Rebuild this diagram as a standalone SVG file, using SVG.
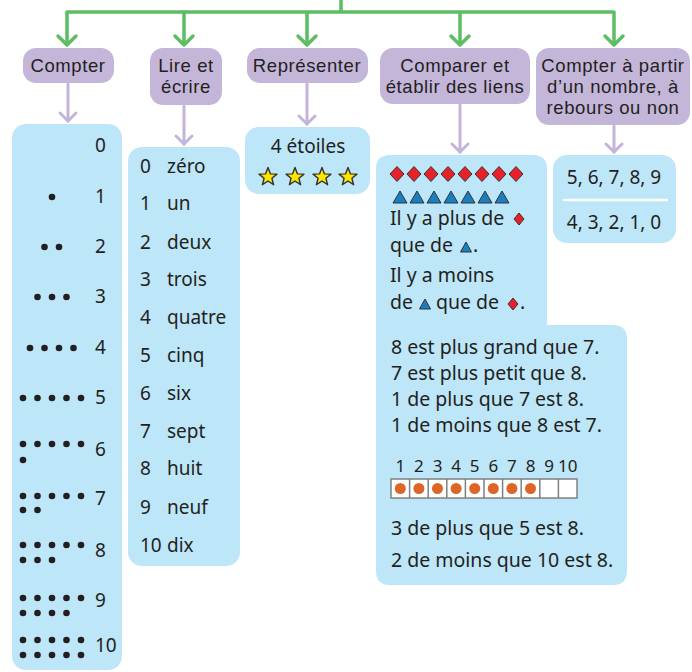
<svg xmlns="http://www.w3.org/2000/svg" width="692" height="672" viewBox="0 0 692 672">
<defs>
<style>
text{font-family:"Noto Sans","Liberation Sans",sans-serif;fill:#231f20;font-size:19px}
.hd{font-family:"Liberation Sans","Noto Sans",sans-serif;font-size:18.5px;letter-spacing:0.6px;text-anchor:middle}
.c{text-anchor:middle}
.cmp{font-size:19.5px}
.num{font-size:17px;text-anchor:middle}
.pu{fill:#c3b6d9}
.bl{fill:#bde6f8}
.g{stroke:#5cbd62;stroke-width:3.5;fill:none;stroke-linejoin:round;stroke-linecap:round}
.p{stroke:#c3b4da;stroke-width:3;fill:none;stroke-linecap:round;stroke-linejoin:round}
.dot{fill:#231f20}
.dia{fill:#e8202a;stroke:#333;stroke-width:1}
.tri{fill:#1a7fc1;stroke:#333;stroke-width:1}
.star{fill:#ffe600;stroke:#333;stroke-width:1.4;stroke-linejoin:round}
.cell{fill:#fff;stroke:#808080;stroke-width:1.5}
.ball{fill:#dd6527}
</style>
<circle id="d" r="3.3" class="dot"/>
<polygon id="dm" points="0,-7.5 7,0 0,7.5 -7,0" class="dia"/>
<polygon id="ds" points="0,-6 5,0 0,6 -5,0" class="dia"/>
<polygon id="tr" points="-7,6 7,6 0,-6" class="tri"/>
<polygon id="ts" points="-5.5,5 5.5,5 0,-5" class="tri"/>
<polygon id="st" points="0,-9.5 2.5,-3.1 9,-2.9 3.9,1.2 5.6,7.7 0,4 -5.6,7.7 -3.9,1.2 -9,-2.9 -2.5,-3.1" class="star"/>
</defs>
<rect width="692" height="672" fill="#fff"/>

<g id="connectors">
<path class="g" d="M341,0 V12 M67,44 V12 H614 V44 M184,12 V44 M307,12 V44 M460,12 V44"/>
<polyline class="g" points="58,36 67,45 76,36"/>
<polyline class="g" points="175,36 184,45 193,36"/>
<polyline class="g" points="298,36 307,45 316,36"/>
<polyline class="g" points="451,36 460,45 469,36"/>
<polyline class="g" points="605,36 614,45 623,36"/>
<path class="p" d="M68,84 V121 M184,106 V144 M307,84 V124 M460,105 V152 M614,126 V152"/>
<polyline class="p" points="60,113 68,121 76,113"/>
<polyline class="p" points="176,136 184,144 192,136"/>
<polyline class="p" points="299,116 307,124 315,116"/>
<polyline class="p" points="452,144 460,152 468,144"/>
<polyline class="p" points="606,144 614,152 622,144"/>
</g>

<g id="h-compter">
<rect class="pu" x="23" y="48" width="91" height="35" rx="13"/>
<text class="hd" x="68" y="72">Compter</text>
</g>
<g id="h-lire">
<rect class="pu" x="150" y="48" width="72" height="57" rx="13"/>
<text class="hd" x="186" y="72">Lire et</text>
<text class="hd" x="186" y="93">écrire</text>
</g>
<g id="h-representer">
<rect class="pu" x="247" y="48" width="121" height="35" rx="13"/>
<text class="hd" x="307" y="72">Représenter</text>
</g>
<g id="h-comparer">
<rect class="pu" x="380" y="48" width="150" height="56" rx="13"/>
<text class="hd" x="455" y="72">Comparer et</text>
<text class="hd" x="455" y="93">établir des liens</text>
</g>
<g id="h-partir">
<rect class="pu" x="536" y="48" width="154" height="77" rx="13"/>
<text class="hd" x="613" y="72">Compter à partir</text>
<text class="hd" x="613" y="93">d’un nombre, à</text>
<text class="hd" x="613" y="114">rebours ou non</text>
</g>

<g id="b-compter">
<rect class="bl" x="12" y="124" width="110" height="546" rx="14"/>
<text x="95" y="152">0</text>
<text x="95" y="203">1</text>
<text x="95" y="253">2</text>
<text x="95" y="303">3</text>
<text x="95" y="354">4</text>
<text x="95" y="404">5</text>
<text x="95" y="456">6</text>
<text x="95" y="505">7</text>
<text x="95" y="557">8</text>
<text x="95" y="607">9</text>
<text x="95" y="652">10</text>
<use href="#d" x="52" y="197"/>
<use href="#d" x="44.5" y="247"/><use href="#d" x="59" y="247"/>
<use href="#d" x="37.5" y="297"/><use href="#d" x="52" y="297"/><use href="#d" x="66.5" y="297"/>
<use href="#d" x="30" y="348"/><use href="#d" x="44.5" y="348"/><use href="#d" x="59" y="348"/><use href="#d" x="73.5" y="348"/>
<g id="r5a"><use href="#d" x="23" y="398"/><use href="#d" x="37.5" y="398"/><use href="#d" x="52" y="398"/><use href="#d" x="66.5" y="398"/><use href="#d" x="81" y="398"/></g>
<use href="#r5a" y="46"/>
<use href="#d" x="23" y="460"/>
<use href="#r5a" y="98"/>
<use href="#d" x="23" y="510"/><use href="#d" x="37.5" y="510"/>
<use href="#r5a" y="147"/>
<use href="#d" x="23" y="560"/><use href="#d" x="37.5" y="560"/><use href="#d" x="52" y="560"/>
<use href="#r5a" y="200"/>
<use href="#d" x="23" y="613"/><use href="#d" x="37.5" y="613"/><use href="#d" x="52" y="613"/><use href="#d" x="66.5" y="613"/>
<use href="#r5a" y="242"/>
<use href="#r5a" y="257"/>
</g>

<g id="b-lire">
<rect class="bl" x="128" y="147" width="112" height="419" rx="14"/>
<text x="140" y="173">0</text><text x="167" y="173">zéro</text>
<text x="140" y="210">1</text><text x="167" y="210">un</text>
<text x="140" y="249">2</text><text x="167" y="249">deux</text>
<text x="140" y="286">3</text><text x="167" y="286">trois</text>
<text x="140" y="324">4</text><text x="167" y="324">quatre</text>
<text x="140" y="362">5</text><text x="167" y="362">cinq</text>
<text x="140" y="400">6</text><text x="167" y="400">six</text>
<text x="140" y="438">7</text><text x="167" y="438">sept</text>
<text x="140" y="475">8</text><text x="167" y="475">huit</text>
<text x="140" y="514">9</text><text x="167" y="514">neuf</text>
<text x="140" y="552">10</text><text x="167" y="552">dix</text>
</g>

<g id="b-representer">
<rect class="bl" x="245" y="127" width="125" height="67" rx="14"/>
<text class="c" x="308" y="153">4 étoiles</text>
<use href="#st" x="268" y="177"/>
<use href="#st" x="295" y="177"/>
<use href="#st" x="322" y="177"/>
<use href="#st" x="348" y="177"/>
</g>

<g id="b-comparer">
<path class="bl" d="M390,155 H533 Q547,155 547,169 V325 H613 Q627,325 627,339 V571 Q627,585 613,585 H390 Q376,585 376,571 V169 Q376,155 390,155 Z"/>
<use href="#dm" x="397" y="174"/><use href="#dm" x="414" y="174"/><use href="#dm" x="431" y="174"/><use href="#dm" x="448" y="174"/>
<use href="#dm" x="465" y="174"/><use href="#dm" x="482" y="174"/><use href="#dm" x="499" y="174"/><use href="#dm" x="516" y="174"/>
<use href="#tr" x="400" y="197"/><use href="#tr" x="417" y="197"/><use href="#tr" x="434" y="197"/><use href="#tr" x="451" y="197"/>
<use href="#tr" x="468" y="197"/><use href="#tr" x="485" y="197"/><use href="#tr" x="502" y="197"/>
<text class="cmp" x="390" y="225">Il y a plus de</text>
<use href="#ds" x="519" y="219"/>
<text class="cmp" x="390" y="252">que de</text>
<use href="#ts" x="466" y="247"/>
<text class="cmp" x="473" y="252">.</text>
<text class="cmp" x="390" y="282">Il y a moins</text>
<text class="cmp" x="390" y="309">de</text>
<use href="#ts" x="425" y="304"/>
<text class="cmp" x="436" y="309">que de</text>
<use href="#ds" x="513" y="304"/>
<text class="cmp" x="520" y="309">.</text>
<text class="cmp" x="391" y="354">8 est plus grand que 7.</text>
<text class="cmp" x="391" y="380">7 est plus petit que 8.</text>
<text class="cmp" x="391" y="406">1 de plus que 7 est 8.</text>
<text class="cmp" x="391" y="432">1 de moins que 8 est 7.</text>
<text class="num" x="400.3" y="472">1</text>
<text class="num" x="418.9" y="472">2</text>
<text class="num" x="437.5" y="472">3</text>
<text class="num" x="456.1" y="472">4</text>
<text class="num" x="474.7" y="472">5</text>
<text class="num" x="493.3" y="472">6</text>
<text class="num" x="511.9" y="472">7</text>
<text class="num" x="530.5" y="472">8</text>
<text class="num" x="549.1" y="472">9</text>
<text class="num" x="567.7" y="472">10</text>
<rect class="cell" x="391" y="479" width="186" height="19"/>
<path class="cell" d="M409.6,479 V498 M428.2,479 V498 M446.8,479 V498 M465.4,479 V498 M484,479 V498 M502.6,479 V498 M521.2,479 V498 M539.8,479 V498 M558.4,479 V498"/>
<circle class="ball" cx="400.3" cy="488.5" r="5.5"/>
<circle class="ball" cx="418.9" cy="488.5" r="5.5"/>
<circle class="ball" cx="437.5" cy="488.5" r="5.5"/>
<circle class="ball" cx="456.1" cy="488.5" r="5.5"/>
<circle class="ball" cx="474.7" cy="488.5" r="5.5"/>
<circle class="ball" cx="493.3" cy="488.5" r="5.5"/>
<circle class="ball" cx="511.9" cy="488.5" r="5.5"/>
<circle class="ball" cx="530.5" cy="488.5" r="5.5"/>
<text class="cmp" x="391" y="535">3 de plus que 5 est 8.</text>
<text class="cmp" x="391" y="567">2 de moins que 10 est 8.</text>
</g>

<g id="b-partir">
<rect class="bl" x="553" y="155" width="123" height="88" rx="14"/>
<text class="c" x="614" y="184">5, 6, 7, 8, 9</text>
<line x1="563" y1="200" x2="668" y2="200" stroke="#fff" stroke-width="2.5"/>
<text class="c" x="614" y="229">4, 3, 2, 1, 0</text>
</g>
</svg>
